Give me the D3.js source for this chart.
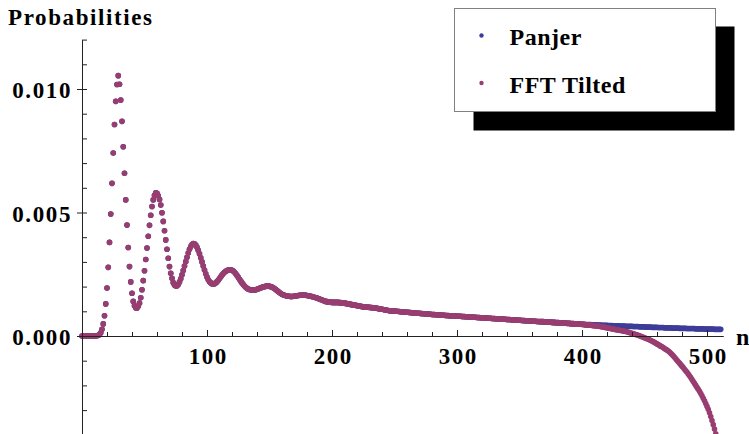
<!DOCTYPE html>
<html>
<head>
<meta charset="utf-8">
<title>Panjer vs FFT Tilted</title>
<style>
  body { margin: 0; background: #fff; }
  svg text { font-family: "Liberation Serif", "Times New Roman", serif; font-weight: bold; }
</style>
</head>
<body>
<svg width="749" height="434"></svg>

<script src="https://d3js.org/d3.v7.min.js"></script>
<script>

    // probabilities in units of 1e-3, one value per n = 0, 1, 2, ...
    var panjer = [
        0,0,0,0,0,0,0,0,0,0,
        0,0,0.01,0.03,0.06,0.13,0.27,0.49,0.82,1.30,
        1.94,2.78,3.79,4.94,6.18,7.41,8.56,9.50,10.18,10.54,
        10.19,9.55,8.69,7.66,6.59,5.51,4.49,3.58,2.81,2.19,
        1.73,1.40,1.22,1.14,1.13,1.20,1.33,1.55,1.87,2.24,
        2.64,3.10,3.56,4.04,4.48,4.89,5.24,5.51,5.70,5.80,
        5.78,5.68,5.53,5.30,4.99,4.64,4.26,3.89,3.51,3.15,
        2.81,2.54,2.34,2.16,2.06,2.02,2.03,2.09,2.19,2.32,
        2.48,2.65,2.83,3.01,3.19,3.36,3.51,3.62,3.70,3.74,
        3.73,3.68,3.59,3.47,3.33,3.17,3.00,2.83,2.67,2.52,
        2.39,2.28,2.20,2.15,2.12,2.11,2.12,2.15,2.20,2.26,
        2.33,2.40,2.47,2.53,2.58,2.62,2.65,2.67,2.68,2.68,
        2.66,2.63,2.58,2.52,2.45,2.38,2.30,2.22,2.15,2.08,
        2.02,1.97,1.93,1.90,1.88,1.87,1.86,1.86,1.86,1.87,
        1.89,1.91,1.93,1.95,1.97,1.99,2.00,2.01,2.02,2.02,
        2.01,2.00,1.98,1.95,1.92,1.88,1.84,1.80,1.76,1.72,
        1.69,1.67,1.65,1.63,1.62,1.61,1.61,1.60,1.60,1.61,
        1.61,1.62,1.63,1.64,1.65,1.65,1.66,1.66,1.66,1.65,
        1.64,1.63,1.62,1.61,1.60,1.58,1.57,1.55,1.54,1.52,
        1.50,1.48,1.46,1.44,1.42,1.40,1.39,1.38,1.37,1.37,
        1.36,1.36,1.36,1.36,1.36,1.36,1.35,1.35,1.34,1.34,
        1.33,1.32,1.31,1.30,1.29,1.28,1.27,1.26,1.25,1.24,
        1.23,1.22,1.21,1.20,1.19,1.18,1.18,1.17,1.17,1.16,
        1.16,1.15,1.15,1.14,1.14,1.13,1.12,1.11,1.10,1.09,
        1.08,1.07,1.06,1.05,1.04,1.03,1.02,1.02,1.01,1.01,
        1.01,1.00,1.00,0.99,0.99,0.98,0.98,0.97,0.97,0.96,
        0.96,0.96,0.95,0.95,0.94,0.94,0.93,0.93,0.92,0.92,
        0.92,0.91,0.91,0.90,0.90,0.89,0.89,0.89,0.88,0.88,
        0.87,0.87,0.87,0.86,0.86,0.85,0.85,0.85,0.84,0.84,
        0.84,0.83,0.83,0.83,0.82,0.82,0.82,0.81,0.81,0.81,
        0.81,0.80,0.80,0.80,0.79,0.79,0.79,0.78,0.78,0.78,
        0.77,0.77,0.77,0.76,0.76,0.76,0.75,0.75,0.75,0.74,
        0.74,0.74,0.73,0.73,0.73,0.72,0.72,0.72,0.71,0.71,
        0.71,0.70,0.70,0.70,0.69,0.69,0.69,0.68,0.68,0.68,
        0.67,0.67,0.67,0.66,0.66,0.66,0.65,0.65,0.65,0.64,
        0.64,0.64,0.63,0.63,0.63,0.62,0.62,0.62,0.61,0.61,
        0.61,0.60,0.60,0.60,0.59,0.59,0.59,0.58,0.58,0.58,
        0.57,0.57,0.57,0.56,0.56,0.56,0.55,0.55,0.55,0.54,
        0.54,0.54,0.53,0.53,0.53,0.52,0.52,0.52,0.51,0.51,
        0.51,0.50,0.50,0.50,0.49,0.49,0.49,0.48,0.48,0.48,
        0.47,0.47,0.47,0.46,0.46,0.46,0.46,0.46,0.45,0.45,
        0.45,0.45,0.44,0.44,0.44,0.44,0.43,0.43,0.43,0.43,
        0.43,0.42,0.42,0.42,0.42,0.41,0.41,0.41,0.41,0.41,
        0.40,0.40,0.40,0.40,0.40,0.39,0.39,0.39,0.39,0.39,
        0.39,0.38,0.38,0.38,0.38,0.38,0.37,0.37,0.37,0.37,
        0.37,0.36,0.36,0.36,0.36,0.36,0.35,0.35,0.35,0.35,
        0.35,0.34,0.34,0.34,0.34,0.34,0.33,0.33,0.33,0.33,
        0.33,0.33,0.32,0.32,0.32,0.32,0.32,0.32,0.31,0.31,
        0.31,0.31,0.31,0.31,0.30,0.30,0.30,0.30,0.30,0.30,
        0.30,0.29,0.29,0.29,0.29,0.29,0.29,0.29,0.28,0.28,
        0.28,0.28,0.28,0.28,0.28,0.28,0.27,0.27,0.27,0.27,
        0.27,0.27
    ];

    // FFT Tilted is the same as Panjer below n = 400, these are n = 400 .. 511
    var tailStart = 400;
    var fftTiltedTail = [
        0.47,0.47,0.46,0.46,0.45,0.45,0.44,0.44,0.43,0.42,
        0.42,0.41,0.40,0.40,0.39,0.38,0.37,0.36,0.35,0.34,
        0.33,0.32,0.31,0.30,0.29,0.28,0.27,0.26,0.25,0.24,
        0.23,0.22,0.21,0.20,0.19,0.18,0.17,0.15,0.14,0.12,
        0.11,0.09,0.08,0.06,0.05,0.03,0.01,-0.01,-0.03,-0.05,
        -0.07,-0.09,-0.11,-0.13,-0.15,-0.18,-0.20,-0.23,-0.26,-0.29,
        -0.32,-0.35,-0.38,-0.41,-0.44,-0.47,-0.51,-0.54,-0.57,-0.61,
        -0.65,-0.70,-0.75,-0.80,-0.86,-0.92,-0.98,-1.04,-1.10,-1.16,
        -1.22,-1.28,-1.35,-1.41,-1.47,-1.54,-1.61,-1.68,-1.76,-1.84,
        -1.92,-2.00,-2.08,-2.16,-2.24,-2.33,-2.42,-2.52,-2.62,-2.73,
        -2.85,-2.97,-3.11,-3.26,-3.42,-3.59,-3.77,-3.96,-4.16,-4.37,
        -4.59,-4.82
    ];

    var seriesNames = ["Panjer", "FFT Tilted"];
    var xMajorTicks = [100, 200, 300, 400, 500];
    var xMinorTicks = [20, 40, 60, 80, 120, 140, 160, 180, 220, 240, 260, 280,
                       320, 340, 360, 380, 420, 440, 460, 480];
    var yMajorTicks = [0, 0.005, 0.010];
    var yMinorTicks = [-0.003, -0.002, -0.001, 0.001, 0.002, 0.003, 0.004,
                       0.006, 0.007, 0.008, 0.009, 0.011, 0.012];

    var svg = d3.select("svg");
    var colors = ["#3d3d99", "#993d70"];
    var fontFamily = "Liberation Serif, Times New Roman, serif";

    var fftTilted = panjer.slice(0, tailStart).concat(fftTiltedTail);

    var x = d3.scaleLinear().domain([0, 513]).range([82, 723.25]);
    var y = d3.scaleLinear().domain([-0.004, 0.012]).range([434.8, 39.6]);

    // points, Panjer first so FFT Tilted sits on top
    [panjer, fftTilted].forEach(function(vals, i) {
        svg.append("g")
            .attr("class", "series")
            .selectAll("circle")
            .data(vals)
            .enter().append("circle")
                .attr("cx", function(d, n) { return x(n); })
                .attr("cy", function(d) { return y(d / 1000); })
                .attr("r", 2.8)
                .attr("fill", colors[i]);
    });

    function styleAxis(g) {
        g.attr("font-family", fontFamily)
         .attr("font-size", 23)
         .attr("font-weight", "bold");
        g.selectAll("line, path").attr("stroke", "#222");
        g.selectAll("text").attr("fill", "#000").style("letter-spacing", "1.6px");
    }

    // x axis along y = 0, ticks point up
    svg.append("g")
        .attr("transform", "translate(0," + y(0) + ")")
        .call(d3.axisBottom(x).tickValues(xMinorTicks).tickSizeInner(-4).tickSizeOuter(0).tickFormat(""))
        .call(function(g) { g.select(".domain").remove(); })
        .call(styleAxis);

    svg.append("g")
        .attr("transform", "translate(0," + y(0) + ")")
        .call(d3.axisBottom(x).tickValues(xMajorTicks).tickSizeInner(-6).tickSizeOuter(0))
        .call(styleAxis)
        .call(function(g) {
            g.selectAll("text").attr("y", 28).attr("dy", null).attr("dx", "0.8px");
        });

    // y axis
    svg.append("g")
        .attr("transform", "translate(" + x(0) + ",0)")
        .call(d3.axisRight(y).tickValues(yMinorTicks.concat(yMajorTicks)).tickSize(5).tickFormat(""))
        .call(function(g) { g.select(".domain").remove(); })
        .call(styleAxis);

    svg.append("g")
        .attr("transform", "translate(" + x(0) + ",0)")
        .call(d3.axisLeft(y).tickValues(yMajorTicks).tickSizeInner(5).tickSizeOuter(0)
            .tickPadding(5).tickFormat(d3.format(".3f")))
        .call(styleAxis)
        .call(function(g) { g.selectAll("text").attr("dy", "0.37em"); });

    svg.append("text")
        .attr("x", 8)
        .attr("y", 25)
        .attr("font-size", 23)
        .style("letter-spacing", "1.6px")
        .text("Probabilities");

    svg.append("text")
        .attr("x", 736)
        .attr("y", 345)
        .attr("font-size", 24)
        .text("n");

    // legend with its drop shadow
    var legend = svg.append("g").attr("transform", "translate(454.5,8.5)");

    legend.append("rect")
        .attr("x", 19).attr("y", 18)
        .attr("width", 261).attr("height", 104)
        .attr("fill", "#000");

    legend.append("rect")
        .attr("width", 261).attr("height", 103)
        .attr("fill", "#fff")
        .attr("stroke", "#808080");

    var entry = legend.selectAll(".entry")
        .data(seriesNames)
        .enter().append("g")
            .attr("class", "entry")
            .attr("transform", function(d, i) { return "translate(0," + (27 + i * 47.5) + ")"; });

    entry.append("circle")
        .attr("cx", 27)
        .attr("cy", 0)
        .attr("r", 2.2)
        .attr("fill", function(d, i) { return colors[i]; });

    entry.append("text")
        .attr("x", 55)
        .attr("y", 9.5)
        .attr("font-size", 24)
        .style("letter-spacing", "0.5px")
        .text(function(d) { return d; });

</script>
</body>
</html>
